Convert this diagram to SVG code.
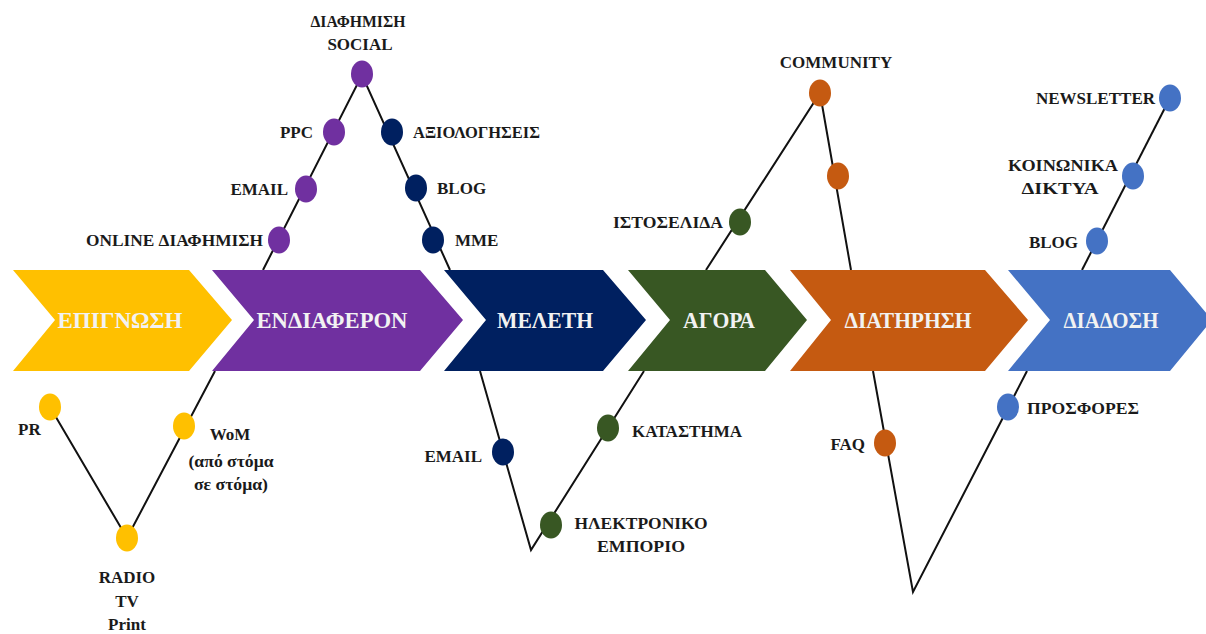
<svg xmlns="http://www.w3.org/2000/svg" width="1206" height="634" viewBox="0 0 1206 634">
<style>
.stage{font-family:"Liberation Serif","Times New Roman",serif;font-weight:bold;font-size:23px;fill:#F2F2F2;text-anchor:middle}
.lbl{font-family:"Liberation Serif","Times New Roman",serif;font-weight:bold;font-size:17px;fill:#1a1a1a}
.m{text-anchor:middle}.e{text-anchor:end}
.ln{stroke:#111;stroke-width:2;fill:none}
.y{fill:#FFC000}.p{fill:#7030A0}.n{fill:#002060}.g{fill:#385723}.o{fill:#C55A11}.b{fill:#4472C4}
</style>
<rect width="1206" height="634" fill="#fff"/>
<g id="connectors">
<polyline class="ln" points="50,407 127,538 215,371"/>
<polyline class="ln" points="263,270 362,75 450,270"/>
<polyline class="ln" points="480,371 531,550 644,371"/>
<polyline class="ln" points="706,270 820,93 851,270"/>
<polyline class="ln" points="873,371 913,592 1027,371"/>
<polyline class="ln" points="1082,270 1170,98"/>
</g>
<g id="stage-epignosi"><polygon class="y" points="13,270 189,270 232,320 189,371 13,371 55,320"/><text class="stage" x="120" y="328" textLength="125" lengthAdjust="spacingAndGlyphs">ΕΠΙΓΝΩΣΗ</text></g>
<g id="stage-endiaferon"><polygon class="p" points="212,270 420,270 463,320 420,371 212,371 254,320"/><text class="stage" x="332" y="328" textLength="151" lengthAdjust="spacingAndGlyphs">ΕΝΔΙΑΦΕΡΟΝ</text></g>
<g id="stage-meleti"><polygon class="n" points="444,270 603,270 646,320 603,371 444,371 486,320"/><text class="stage" x="545" y="328" textLength="96" lengthAdjust="spacingAndGlyphs">ΜΕΛΕΤΗ</text></g>
<g id="stage-agora"><polygon class="g" points="628,270 765,270 807,320 765,371 628,371 670,320"/><text class="stage" x="719" y="328" textLength="72" lengthAdjust="spacingAndGlyphs">ΑΓΟΡΑ</text></g>
<g id="stage-diatirisi"><polygon class="o" points="790,270 985,270 1028,320 985,371 790,371 831,320"/><text class="stage" x="908" y="328" textLength="127" lengthAdjust="spacingAndGlyphs">ΔΙΑΤΗΡΗΣΗ</text></g>
<g id="stage-diadosi"><polygon class="b" points="1008,270 1170,270 1212,320 1170,371 1008,371 1050,320"/><text class="stage" x="1111" y="328" textLength="95" lengthAdjust="spacingAndGlyphs">ΔΙΑΔΟΣΗ</text></g>

<g id="node-pr"><ellipse class="y" cx="50" cy="407" rx="11" ry="13.5"/><text class="lbl" x="18" y="435">PR</text></g>
<g id="node-radio"><ellipse class="y" cx="127" cy="538" rx="11" ry="13.5"/><text class="lbl m" x="127" y="583">RADIO</text><text class="lbl m" x="127" y="607">TV</text><text class="lbl m" x="127" y="630">Print</text></g>
<g id="node-wom"><ellipse class="y" cx="184" cy="426" rx="11" ry="13.5"/><text class="lbl m" x="230" y="440">WoM</text><text class="lbl m" x="231" y="467" textLength="85" lengthAdjust="spacingAndGlyphs">(από στόμα</text><text class="lbl m" x="231" y="490" textLength="74" lengthAdjust="spacingAndGlyphs">σε στόμα)</text></g>

<g id="node-online"><ellipse class="p" cx="279" cy="240" rx="11" ry="13.5"/><text class="lbl e" x="263" y="246" textLength="177" lengthAdjust="spacingAndGlyphs">ONLINE ΔΙΑΦΗΜΙΣΗ</text></g>
<g id="node-email1"><ellipse class="p" cx="306" cy="189" rx="11" ry="13.5"/><text class="lbl e" x="288" y="195">EMAIL</text></g>
<g id="node-ppc"><ellipse class="p" cx="334" cy="132" rx="11" ry="13.5"/><text class="lbl e" x="313" y="138">PPC</text></g>
<g id="node-social"><ellipse class="p" cx="362" cy="74" rx="11" ry="13.5"/><text class="lbl m" x="358" y="27" textLength="95" lengthAdjust="spacingAndGlyphs">ΔΙΑΦΗΜΙΣΗ</text><text class="lbl m" x="360" y="50">SOCIAL</text></g>
<g id="node-axiologiseis"><ellipse class="n" cx="392" cy="132" rx="11" ry="13.5"/><text class="lbl" x="413" y="138" textLength="127" lengthAdjust="spacingAndGlyphs">ΑΞΙΟΛΟΓΗΣΕΙΣ</text></g>
<g id="node-blog1"><ellipse class="n" cx="416" cy="188" rx="11" ry="13.5"/><text class="lbl" x="437" y="194">BLOG</text></g>
<g id="node-mme"><ellipse class="n" cx="433" cy="240" rx="11" ry="13.5"/><text class="lbl" x="455" y="246">MME</text></g>

<g id="node-email2"><ellipse class="n" cx="503" cy="452" rx="11" ry="13.5"/><text class="lbl e" x="482" y="462">EMAIL</text></g>
<g id="node-eshop"><ellipse class="g" cx="551" cy="525" rx="11" ry="13.5"/><text class="lbl m" x="641" y="529" textLength="133" lengthAdjust="spacingAndGlyphs">ΗΛΕΚΤΡΟΝΙΚΟ</text><text class="lbl m" x="641" y="552" textLength="88" lengthAdjust="spacingAndGlyphs">ΕΜΠΟΡΙΟ</text></g>
<g id="node-katastima"><ellipse class="g" cx="608" cy="428" rx="11" ry="13.5"/><text class="lbl" x="632" y="437" textLength="110" lengthAdjust="spacingAndGlyphs">ΚΑΤΑΣΤΗΜΑ</text></g>
<g id="node-istoselida"><ellipse class="g" cx="740" cy="222" rx="11" ry="13.5"/><text class="lbl e" x="723" y="228" textLength="110" lengthAdjust="spacingAndGlyphs">ΙΣΤΟΣΕΛΙΔΑ</text></g>
<g id="node-community"><ellipse class="o" cx="820" cy="93" rx="11" ry="13.5"/><text class="lbl m" x="836" y="68">COMMUNITY</text></g>
<g id="node-orange2"><ellipse class="o" cx="838" cy="176" rx="11" ry="13.5"/></g>
<g id="node-faq"><ellipse class="o" cx="885" cy="443" rx="11" ry="13.5"/><text class="lbl e" x="865" y="450">FAQ</text></g>
<g id="node-prosfores"><ellipse class="b" cx="1008" cy="407" rx="11" ry="13.5"/><text class="lbl" x="1027" y="414" textLength="112" lengthAdjust="spacingAndGlyphs">ΠΡΟΣΦΟΡΕΣ</text></g>
<g id="node-blog2"><ellipse class="b" cx="1097" cy="241" rx="11" ry="13.5"/><text class="lbl e" x="1078" y="248">BLOG</text></g>
<g id="node-koinonika"><ellipse class="b" cx="1133" cy="176" rx="11" ry="13.5"/><text class="lbl m" x="1063" y="171" textLength="110" lengthAdjust="spacingAndGlyphs">ΚΟΙΝΩΝΙΚΑ</text><text class="lbl m" x="1060" y="194" textLength="77" lengthAdjust="spacingAndGlyphs">ΔΙΚΤΥΑ</text></g>
<g id="node-newsletter"><ellipse class="b" cx="1170" cy="98" rx="11" ry="13.5"/><text class="lbl e" x="1155" y="104">NEWSLETTER</text></g>
</svg>
